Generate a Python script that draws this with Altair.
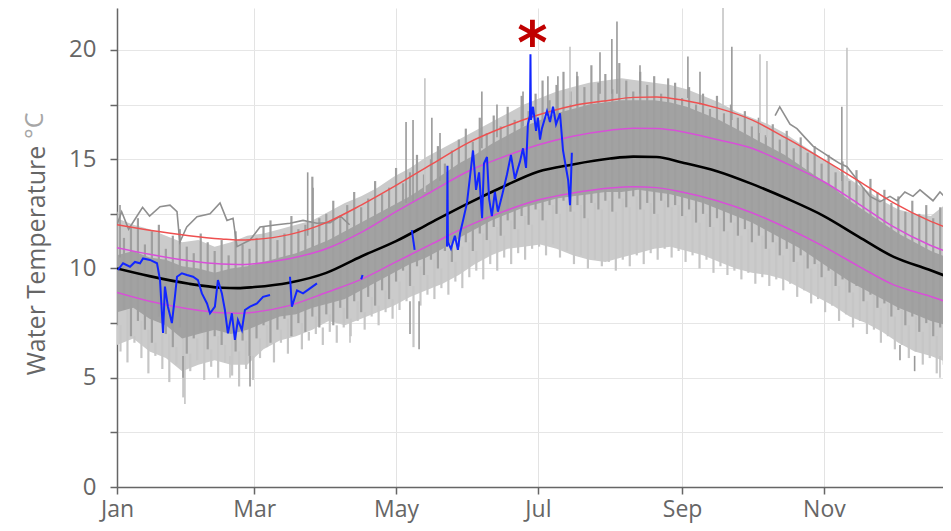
import altair as alt
import pandas as pd

# ---------------- data ----------------
# climatology (day of year, from Jan 1 = 0)
clim_day = [0, 14, 31, 45, 52, 59, 74, 90, 105, 120, 135, 151, 166, 181, 196, 212, 222, 232, 243, 258, 273, 288, 304, 319, 334, 349, 356]
clim_mean = [10.0, 9.65, 9.3, 9.12, 9.1, 9.15, 9.35, 9.8, 10.55, 11.25, 12.1, 12.98, 13.74, 14.43, 14.76, 15.03, 15.12, 15.1, 14.85, 14.45, 13.87, 13.2, 12.4, 11.45, 10.53, 9.95, 9.67]
clim_up1 = [10.95, 10.65, 10.35, 10.2, 10.18, 10.22, 10.45, 10.9, 11.65, 12.6, 13.5, 14.45, 15.1, 15.65, 16.05, 16.33, 16.42, 16.4, 16.26, 15.9, 15.5, 14.8, 13.97, 12.95, 11.9, 11.1, 10.8]
clim_lo1 = [8.9, 8.5, 8.15, 7.97, 7.95, 8.0, 8.3, 8.9, 9.5, 10.3, 11.1, 11.95, 12.6, 13.13, 13.45, 13.68, 13.74, 13.7, 13.5, 13.1, 12.55, 11.85, 11.0, 10.1, 9.25, 8.75, 8.5]
clim_up2 = [12.0, 11.75, 11.5, 11.35, 11.3, 11.33, 11.55, 12.1, 12.9, 13.8, 14.75, 15.75, 16.45, 17.02, 17.45, 17.7, 17.83, 17.85, 17.71, 17.35, 16.8, 15.95, 14.97, 14.0, 13.0, 12.2, 11.9]

# historical records: weekly envelopes (outer light band and dense dark core)
band_day = list(range(0, 358, 7)) + [360]
light_lo = [6.5, 6.8, 6.2, 5.9, 5.3, 5.6, 5.8, 5.6, 5.6, 6.3, 6.7, 6.9, 7.2, 7.6, 7.4, 7.7, 8.0, 8.3, 8.7, 9.0, 9.3, 9.7, 10.2, 10.6, 10.9, 11.0,
            11.1, 10.9, 10.6, 10.4, 10.3, 10.5, 10.7, 10.9, 11.0, 10.8, 10.6, 10.3, 10.0, 9.8, 9.7, 9.5, 9.1, 8.7, 8.3, 7.8, 7.5, 7.1, 6.6, 6.2, 6.0, 5.7, 5.6]
light_hi = [12.3, 12.0, 11.8, 11.5, 11.2, 11.3, 11.0, 11.2, 11.5, 11.6, 11.8, 12.0, 12.2, 12.6, 13.0, 13.3, 13.7, 14.2, 14.6, 15.1, 15.5, 15.9, 16.3, 16.7, 17.1, 17.5,
            17.8, 18.1, 18.3, 18.5, 18.6, 18.7, 18.6, 18.5, 18.4, 18.2, 17.9, 17.6, 17.2, 16.9, 16.6, 16.2, 15.7, 15.2, 14.7, 14.1, 13.6, 13.1, 12.7, 12.5, 12.4, 13.0, 13.2]
dark_lo = [8.0, 8.2, 7.7, 7.4, 6.8, 7.0, 7.2, 7.0, 7.2, 7.5, 7.8, 7.9, 8.2, 8.4, 8.6, 9.0, 9.4, 9.8, 10.2, 10.5, 10.9, 11.4, 11.8, 12.2, 12.5, 12.8,
           13.0, 13.2, 13.3, 13.4, 13.5, 13.5, 13.6, 13.5, 13.4, 13.2, 13.0, 12.7, 12.4, 12.1, 11.7, 11.3, 10.9, 10.4, 9.9, 9.4, 9.0, 8.6, 8.2, 7.9, 7.6, 7.4, 7.3]
dark_hi = [10.6, 10.8, 10.5, 10.4, 10.1, 10.0, 9.8, 10.0, 10.1, 10.3, 10.5, 10.7, 11.0, 11.3, 11.7, 12.1, 12.5, 12.9, 13.3, 13.8, 14.3, 14.8, 15.2, 15.7, 16.1, 16.5,
           16.8, 17.1, 17.3, 17.5, 17.6, 17.7, 17.7, 17.7, 17.6, 17.4, 17.1, 16.8, 16.4, 16.0, 15.6, 15.2, 14.7, 14.2, 13.7, 13.1, 12.6, 12.1, 11.6, 11.2, 10.8, 10.5, 10.4]

# historical records: individual daily extremes, every 3 days (upper, lower dark, lowest light)
core_top = [12.6, 11.4, 11.9, 12.3, 11.1, 11.7, 12.0, 10.9, 11.5, 11.8, 11.0, 10.7, 11.6, 11.2, 10.8, 11.3, 10.6, 11.7, 11.1, 10.9,
            11.4, 11.9, 12.2, 11.3, 11.6, 12.4, 11.8, 12.0, 14.2, 12.3,
            12.5, 13.1, 12.3, 12.9, 13.5, 12.8, 13.2, 14.0, 13.4, 13.7,
            14.6, 13.9, 14.4, 15.2, 14.3, 15.0, 15.6, 14.8, 15.4, 15.9,
            16.4, 15.8, 16.9, 16.2, 17.0, 16.5, 17.4, 16.8, 17.9, 17.2,
            18.0, 18.6, 17.7, 18.4, 19.0, 18.1, 18.8, 18.3, 19.3, 18.5,
            18.9, 18.2, 19.4, 18.6, 18.1, 19.0, 18.4, 18.8, 18.0, 18.7,
            18.5, 17.8, 18.3, 17.5, 18.0, 17.3, 17.9, 17.1, 17.5, 16.9,
            17.2, 16.5, 16.9, 16.1, 16.6, 15.9, 16.3, 15.5, 16.0, 15.3,
            15.6, 14.8, 15.2, 14.4, 14.9, 14.0, 14.5, 13.7, 14.1, 13.5,
            13.6, 13.0, 13.3, 12.6, 13.1, 12.5, 12.9, 12.3, 12.8, 12.6]
core_low = [7.4, 8.1, 6.9, 7.6, 7.2, 6.6, 7.8, 7.0, 6.4, 7.3, 6.1, 6.8, 7.1, 6.3, 6.9, 6.5, 7.2, 6.2, 6.7, 6.0,
            6.8, 7.4, 6.6, 7.2, 7.7, 6.9, 7.5, 7.1, 7.8, 7.3,
            7.9, 7.4, 8.2, 7.7, 8.5, 8.0, 8.7, 8.3, 9.0, 8.6,
            9.4, 9.9, 9.2, 10.1, 9.7, 10.4, 10.0, 10.8, 10.3, 11.0,
            11.2, 10.8, 11.6, 11.3, 11.9, 11.5, 12.2, 11.8, 12.4, 12.0,
            12.7, 12.2, 12.9, 12.5, 13.1, 12.6, 12.9, 12.3, 13.0, 12.7,
            13.1, 12.6, 13.2, 12.8, 13.3, 12.7, 13.0, 12.5, 13.1, 12.8,
            12.9, 12.4, 12.7, 12.1, 12.5, 11.9, 12.3, 11.7, 12.1, 11.5,
            11.8, 11.2, 11.5, 10.9, 11.2, 10.6, 10.9, 10.3, 10.6, 10.0,
            10.2, 9.6, 9.9, 9.2, 9.5, 8.9, 9.2, 8.5, 8.8, 8.2,
            8.4, 7.8, 8.1, 7.4, 7.8, 7.1, 7.5, 6.9, 7.3, 6.8]
light_trace = [6.2, 5.7, 6.6, 5.9, 5.2, 6.0, 5.4, 4.8, 5.6, 4.1, 5.3, 5.8, 4.9, 5.5, 5.0, 5.7, 5.1, 4.6, 5.4, 4.9,
               5.9, 6.4, 5.7, 6.6, 6.1, 6.9, 6.3, 6.7, 7.0, 6.5,
               7.1, 6.6, 7.3, 6.9, 7.6, 7.2, 7.8, 7.4, 8.0, 7.7,
               8.1, 8.5, 6.4, 8.3, 8.8, 8.6, 9.1, 8.8, 9.4, 9.1,
               9.6, 9.9, 9.5, 10.2, 9.9, 10.5, 10.2, 10.7, 10.4, 10.9,
               11.0, 10.6, 11.1, 10.5, 10.8, 10.2, 10.6, 10.0, 10.4, 10.1,
               10.3, 9.9, 10.4, 10.1, 10.6, 10.2, 10.7, 10.4, 10.9, 10.5,
               10.8, 10.3, 10.6, 10.0, 10.4, 9.8, 10.1, 9.7, 9.9, 9.5,
               9.8, 9.3, 9.6, 9.2, 9.5, 9.0, 9.3, 8.7, 9.0, 8.4,
               8.6, 8.0, 8.3, 7.6, 7.9, 7.3, 7.6, 7.0, 7.2, 6.6,
               6.9, 6.3, 6.5, 5.9, 6.2, 5.6, 5.9, 5.2, 5.6, 5.0]
core_step = 3
light_offset = 1.5

# spikes of individual records (day, low end, high end, shade)
spike_day = [1.3, 82, 84.3, 124.3, 127.3, 132.4, 135.4, 138.9, 156.9, 163.4, 174.6, 185.3, 189.6, 194.8, 197.8, 207.7, 212.8, 215, 224.9, 245.5, 250.7, 260.6, 264.4, 276.5, 279.5, 311.7, 313.9,
             29.2, 57.2, 48.6, 28.4, 100.2, 129.9, 126, 353.9, 343, 336.7]
spike_lo = [10.5, 11.5, 11.0, 13.0, 13.0, 13.5, 13.5, 14.0, 15.5, 16.0, 16.5, 17.0, 17.0, 17.5, 17.5, 18.0, 18.0, 18.0, 18.0, 17.8, 17.5, 17.2, 16.8, 16.2, 16.0, 14.0, 14.0,
            6.0, 6.0, 6.0, 6.0, 7.5, 8.5, 8.5, 6.0, 6.0, 6.5]
spike_hi = [12.9, 14.4, 13.7, 16.7, 16.8, 18.7, 16.9, 16.2, 18.1, 17.5, 18.1, 18.8, 18.8, 20.15, 19.0, 19.9, 20.5, 21.3, 19.3, 19.7, 19.0, 22.6, 20.15, 19.8, 19.5, 17.4, 20.1,
            3.8, 4.6, 5.0, 5.0, 6.6, 6.3, 7.0, 5.0, 5.3, 5.8]
spike_shade = ["d", "d", "d", "d", "d", "l", "d", "d", "d", "d", "d", "d", "d", "l", "d", "d", "d", "d", "d", "d", "d", "l", "d", "l", "l", "d", "l",
               "l", "d", "l", "d", "l", "d", "d", "l", "d", "d"]

# a warm record in Jan-Apr
hiA_day = [0, 2, 5, 8, 11, 14, 18.5, 22.8, 25.8, 27, 30, 34.4, 40, 44.3, 47.3, 49.9, 51.6, 57.2, 61.5, 68.8, 74.4, 80, 86, 91.6, 96, 100]
hiA_val = [12.0, 12.6, 11.8, 12.3, 12.8, 12.4, 12.83, 12.9, 12.6, 11.2, 11.9, 12.37, 12.5, 13.0, 12.2, 12.3, 11.0, 11.3, 11.9, 12.0, 12.07, 12.2, 12.07, 12.1, 12.4, 12.0]
# a warm record in Oct-Dec
hiB_day = [283, 285, 289.4, 292.4, 295.8, 299.3, 303.6, 307.9, 310.9, 313.9, 317.3, 320.8, 323.8, 328.1, 332.4, 335.4, 338.8, 342.3, 345.3, 350.9, 353.9, 358.6]
hiB_val = [17.0, 17.4, 16.6, 16.4, 16.0, 15.6, 15.3, 15.0, 14.8, 14.66, 14.2, 13.7, 13.3, 13.06, 13.3, 13.1, 13.5, 13.3, 13.6, 13.1, 13.5, 13.0]

# current year (blue), segments separated by gaps
cur_day = [0.4, 2.6, 5.6, 7.7, 9.9, 11.2, 14.2, 17.2, 18.5, 19.8, 20.6, 21.9, 23.6, 24.9, 25.8, 27.9, 30.1, 32.7, 34.8, 36.5, 38.7, 40, 42.1, 43.4, 45.1, 46.4, 47.7, 49.4, 50.7, 52, 53.7, 55, 57.2, 60.2, 62.8, 65.8,
           74.4, 75.2, 77.4, 80, 83, 86,
           105.0, 105.6,
           126.8, 128.0,
           141.9, 142.1, 142.3, 143.6, 145.3, 146.6, 147.5, 148.8, 150.5, 151.8, 153.1, 154.4, 155.7, 157, 157.8, 159.1, 160, 161.2, 162.5, 163.8, 165.5,
           167.7, 169.4, 171.1, 173.3, 174.6, 175.9, 176.7, 177.6, 177.8, 178, 178.9, 180.2, 181, 181.9, 182.7, 184.9, 186.2, 187.5, 188.8, 190.5, 191.8, 193.1, 194, 194.8, 195.2, 195.6]
cur_val = [9.93, 10.24, 10.08, 10.3, 10.24, 10.46, 10.39, 10.24, 9.47, 7.05, 9.17, 8.25, 7.5, 8.7, 9.62, 9.78, 9.7, 9.62, 9.47, 8.86, 8.4, 7.95, 8.25, 9.47, 8.86, 8.1, 7.03, 7.95, 6.73, 7.64, 7.19, 8.1, 8.25, 8.4, 8.7, 8.79,
           9.62, 8.25, 9.0, 8.86, 9.09, 9.32,
           9.5, 9.7,
           11.76, 10.85,
           11.0, 14.7, 11.2, 10.9, 11.5, 10.85, 11.6, 12.2, 13.0, 14.2, 15.4, 13.6, 14.4, 12.3, 14.8, 15.1, 13.2, 12.4, 13.5, 12.6, 13.3,
           14.3, 15.2, 14.1, 14.9, 15.5, 14.6, 16.6, 17.0, 19.8, 16.8, 17.4, 16.3, 16.9, 15.9, 16.4, 17.2, 16.7, 17.4, 16.6, 17.1, 15.4, 14.6, 14.05, 12.9, 14.0, 15.3]
cur_seg = [1] * 36 + [2] * 6 + [3] * 2 + [4] * 2 + [5] * 47

# annotation
note_day = [178.6]
note_val = [21.5]
note_text = ["*"]

# axes
x_end = 355.2
y_top = 21.92
month_ticks = [0, 59, 120, 181, 243, 304]
month_labels = ["Jan", "Mar", "May", "Jul", "Sep", "Nov"]
y_ticks = [0, 2.5, 5, 7.5, 10, 12.5, 15, 17.5, 20]
y_title = "Water Temperature"
y_unit = "°C"

FONT = "Open Sans"
GRAY_TXT = "#666666"

# ---------------- tables ----------------
clim = pd.DataFrame({"day": clim_day, "mean": clim_mean, "up1": clim_up1, "lo1": clim_lo1, "up2": clim_up2})
band = pd.DataFrame({"day": band_day, "llo": light_lo, "lhi": light_hi, "dlo": dark_lo, "dhi": dark_hi})
n_core = len(core_top)
core = pd.DataFrame({"day": [i * core_step for i in range(n_core)], "top": core_top, "low": core_low})
core_l = pd.DataFrame({"day": [i * core_step + light_offset for i in range(n_core)], "lt": light_trace, "low": core_low})
spikes = pd.DataFrame({"day": spike_day, "lo": spike_lo, "hi": spike_hi, "shade": spike_shade})
hist = pd.concat([
    pd.DataFrame({"day": hiA_day, "val": hiA_val, "rec": "A"}),
    pd.DataFrame({"day": hiB_day, "val": hiB_val, "rec": "B"}),
])
cur = pd.DataFrame({"day": cur_day, "val": cur_val, "seg": cur_seg})
note = pd.DataFrame({"day": note_day, "val": note_val, "t": note_text})
unit = pd.DataFrame({"t": [y_unit]})

label_expr = "{" + ",".join(f"'{d}':'{l}'" for d, l in zip(month_ticks, month_labels)) + "}[datum.value]"

xs = alt.Scale(domain=[0, x_end], nice=False, zero=False)
ys = alt.Scale(domain=[0, y_top], nice=False, zero=True)

x_axis = alt.Axis(values=month_ticks, labelExpr=label_expr, title=None, grid=True, gridColor="#e3e3e3",
                  domainColor="#666666", domainWidth=1.5, tickColor="#666666", tickSize=7, tickWidth=1.5,
                  labelFont=FONT, labelFontSize=23, labelColor=GRAY_TXT, labelBaseline="alphabetic",
                  labelPadding=22, labelFlush=False)
y_axis = alt.Axis(values=y_ticks, labelExpr="datum.value % 5 === 0 ? format(datum.value, 'd') : ''",
                  title=y_title, titleFont=FONT, titleFontSize=25, titleFontWeight="normal",
                  titleColor=GRAY_TXT, titleAngle=-90, titleX=-81, titleY=252, titleAlign="center", titleBaseline="middle",
                  grid=True, gridColor="#e6e6e6", domainColor="#666666", domainWidth=1.5,
                  tickColor="#666666", tickSize=7, tickWidth=1.5,
                  labelFont=FONT, labelFontSize=24, labelColor=GRAY_TXT, labelPadding=14)


def X():
    return alt.X("day:Q", scale=xs, axis=x_axis)


def Xn():
    return alt.X("day:Q", scale=xs)


light = alt.Chart(band).mark_area(color="#cbcbcb", clip=True).encode(
    x=X(), y=alt.Y("llo:Q", scale=ys, axis=y_axis), y2="lhi:Q")
light_hair = alt.Chart(core_l).mark_rule(color="#c6c6c6", strokeWidth=2.2, clip=True).encode(
    x=Xn(), y=alt.Y("lt:Q", scale=ys), y2="low:Q")
dark = alt.Chart(band).mark_area(color="#a2a2a2", clip=True).encode(
    x=Xn(), y=alt.Y("dlo:Q", scale=ys), y2="dhi:Q")
dark_hair = alt.Chart(core).mark_rule(color="#9f9f9f", strokeWidth=2.2, clip=True).encode(
    x=Xn(), y=alt.Y("low:Q", scale=ys), y2="top:Q")
spk = alt.Chart(spikes).mark_rule(strokeWidth=1.6, clip=True).encode(
    x=Xn(), y=alt.Y("lo:Q", scale=ys), y2="hi:Q",
    color=alt.Color("shade:N", scale=alt.Scale(domain=["d", "l"], range=["#999999", "#c4c4c4"]), legend=None))
hl = alt.Chart(hist).mark_line(color="#8f8f8f", strokeWidth=1.6, clip=True).encode(
    x=Xn(), y=alt.Y("val:Q", scale=ys), detail="rec:N")

base = alt.Chart(clim)
red = base.mark_line(color="#ee5050", strokeWidth=1.5, interpolate="monotone", clip=True).encode(x=Xn(), y=alt.Y("up2:Q", scale=ys))
mu = base.mark_line(color="#d84fd8", strokeWidth=1.5, interpolate="monotone", clip=True).encode(x=Xn(), y=alt.Y("up1:Q", scale=ys))
ml = base.mark_line(color="#d84fd8", strokeWidth=1.5, interpolate="monotone", clip=True).encode(x=Xn(), y=alt.Y("lo1:Q", scale=ys))
blk = base.mark_line(color="#000000", strokeWidth=2.6, interpolate="monotone", clip=True).encode(x=Xn(), y=alt.Y("mean:Q", scale=ys))

blue = alt.Chart(cur).mark_line(color="#1226ff", strokeWidth=2, clip=True).encode(
    x=Xn(), y=alt.Y("val:Q", scale=ys), detail="seg:N", order="day:Q")

ast = alt.Chart(note).mark_text(color="#c00000", fontSize=58, fontWeight="bold", font="DejaVu Sans",
                                baseline="top", align="center").encode(
    x=Xn(), y=alt.Y("val:Q", scale=ys), text="t:N")

# unit part of the axis title, in a lighter grey, continuing the rotated title upwards
unit_txt = alt.Chart(unit).mark_text(color="#a6a6a6", fontSize=25, font=FONT, angle=270,
                                     align="left", baseline="alphabetic").encode(
    x=alt.value(-74), y=alt.value(131), text="t:N")

chart = alt.layer(light, light_hair, dark, dark_hair, spk, hl, red, mu, ml, blk, blue, ast, unit_txt).properties(
    width=826, height=479,
    autosize=alt.AutoSizeParams(type="none"),
    padding={"left": 109, "top": 0, "right": 0, "bottom": 36},
).configure_view(stroke=None)

chart.save("out.html", embed_options={"renderer": "svg", "actions": False})
